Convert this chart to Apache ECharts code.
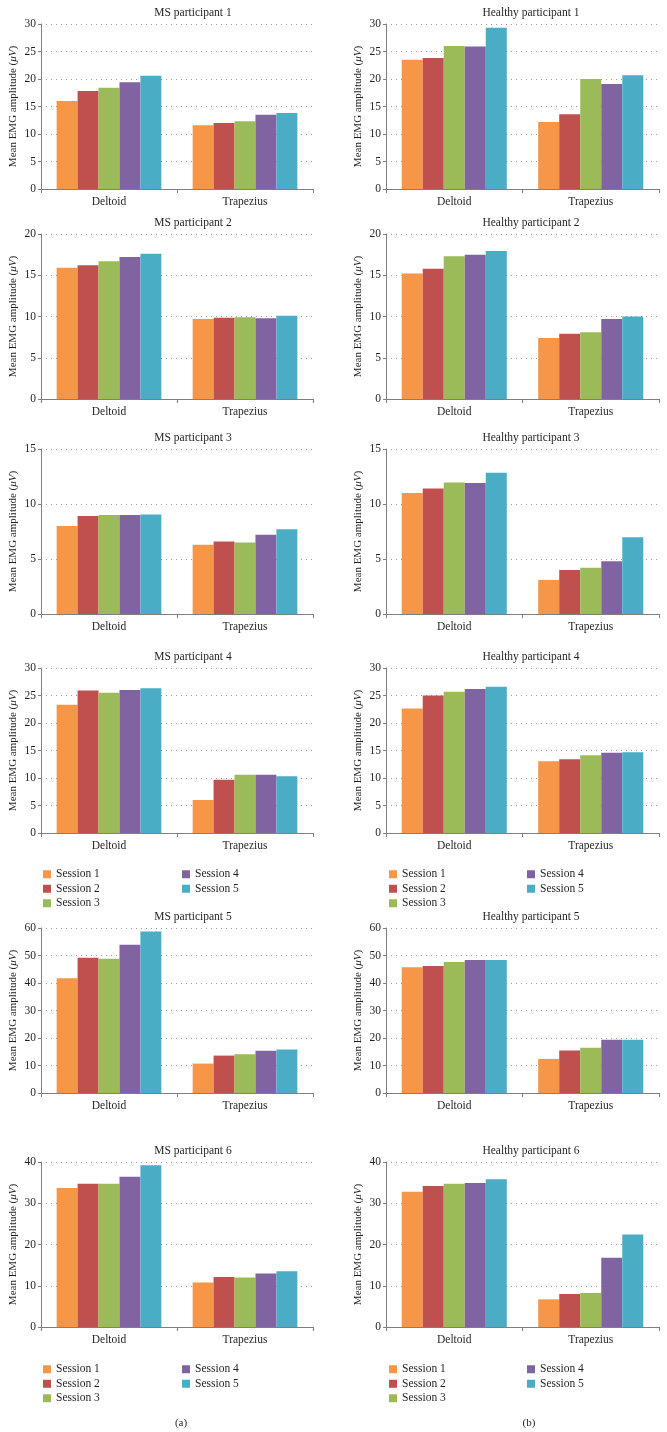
<!DOCTYPE html>
<html>
<head>
<meta charset="utf-8">
<script src="https://cdn.jsdelivr.net/npm/echarts@6/dist/echarts.min.js"></script>
<style>
  html, body { margin: 0; padding: 0; background: #fff; }
  #chart { width: 667px; height: 1432px; }
</style>
</head>
<body>
<div id="chart"></div>
<script>
// categories and sessions
const categories = ['Deltoid', 'Trapezius'];
const sessions = ['Session 1', 'Session 2', 'Session 3', 'Session 4', 'Session 5'];

// MS participants (a), one value per session
const ms1Deltoid = [16.0, 17.8, 18.4, 19.4, 20.6];
const ms1Trapezius = [11.6, 12.0, 12.3, 13.5, 13.8];
const ms2Deltoid = [15.9, 16.2, 16.7, 17.2, 17.6];
const ms2Trapezius = [9.7, 9.85, 9.9, 9.8, 10.1];
const ms3Deltoid = [8.0, 8.9, 9.0, 9.0, 9.05];
const ms3Trapezius = [6.3, 6.6, 6.5, 7.2, 7.7];
const ms4Deltoid = [23.3, 25.9, 25.5, 26.0, 26.3];
const ms4Trapezius = [6.0, 9.7, 10.6, 10.6, 10.3];
const ms5Deltoid = [41.7, 49.2, 48.8, 53.9, 58.7];
const ms5Trapezius = [10.7, 13.6, 14.1, 15.4, 15.8];
const ms6Deltoid = [33.7, 34.7, 34.7, 36.4, 39.2];
const ms6Trapezius = [10.8, 12.1, 12.0, 13.0, 13.5];

// Healthy participants (b)
const h1Deltoid = [23.5, 23.8, 26.0, 25.9, 29.3];
const h1Trapezius = [12.2, 13.6, 20.0, 19.1, 20.7];
const h2Deltoid = [15.2, 15.8, 17.3, 17.5, 17.95];
const h2Trapezius = [7.4, 7.9, 8.1, 9.7, 10.0];
const h3Deltoid = [11.0, 11.4, 11.95, 11.9, 12.85];
const h3Trapezius = [3.1, 4.0, 4.2, 4.8, 6.97];
const h4Deltoid = [22.65, 25.0, 25.7, 26.2, 26.6];
const h4Trapezius = [13.05, 13.4, 14.15, 14.6, 14.7];
const h5Deltoid = [45.7, 46.2, 47.6, 48.4, 48.4];
const h5Trapezius = [12.4, 15.5, 16.5, 19.4, 19.4];
const h6Deltoid = [32.8, 34.2, 34.7, 34.9, 35.8];
const h6Trapezius = [6.7, 8.0, 8.25, 16.8, 22.4];

// y axis tick setup per row
const yMax = [30, 20, 15, 30, 60, 40];
const yInterval = [5, 5, 5, 5, 10, 10];

const msPanels = [
  ['MS participant 1', ms1Deltoid, ms1Trapezius],
  ['MS participant 2', ms2Deltoid, ms2Trapezius],
  ['MS participant 3', ms3Deltoid, ms3Trapezius],
  ['MS participant 4', ms4Deltoid, ms4Trapezius],
  ['MS participant 5', ms5Deltoid, ms5Trapezius],
  ['MS participant 6', ms6Deltoid, ms6Trapezius],
];
const healthyPanels = [
  ['Healthy participant 1', h1Deltoid, h1Trapezius],
  ['Healthy participant 2', h2Deltoid, h2Trapezius],
  ['Healthy participant 3', h3Deltoid, h3Trapezius],
  ['Healthy participant 4', h4Deltoid, h4Trapezius],
  ['Healthy participant 5', h5Deltoid, h5Trapezius],
  ['Healthy participant 6', h6Deltoid, h6Trapezius],
];

const sessionColors = ['#F79646', '#C0504D', '#9BBB59', '#8064A2', '#4BACC6'];
const FONT = "'Liberation Serif', 'DejaVu Serif', serif";
const TEXT = '#231f20';

// layout
const rowTops = [24, 234, 449, 668, 928, 1162];
const rowHeight = 165;
const colLeft = [41, 386];
const colWidth = [272, 273];
const titleCenter = [188, 526];

const chart = echarts.init(document.getElementById('chart'));

const titles = [];
const grids = [];
const xAxes = [];
const yAxes = [];
const series = [];

[msPanels, healthyPanels].forEach((panels, col) => {
  panels.forEach(([title, deltoid, trapezius], row) => {
    const idx = grids.length;
    titles.push({
      text: title,
      left: titleCenter[col],
      top: rowTops[row] - 22,
      textAlign: 'center',
      textStyle: { fontFamily: FONT, fontSize: 11.5, fontWeight: 'normal', color: TEXT },
    });
    grids.push({
      left: colLeft[col],
      top: rowTops[row],
      width: colWidth[col],
      height: rowHeight,
    });
    xAxes.push({
      type: 'category',
      gridIndex: idx,
      data: categories,
      axisLine: { lineStyle: { color: '#7f7f7f', width: 1 } },
      axisTick: { show: true, length: 4, lineStyle: { color: '#7f7f7f' } },
      axisLabel: { margin: 7, fontFamily: FONT, fontSize: 11.5, color: TEXT },
    });
    yAxes.push({
      type: 'value',
      gridIndex: idx,
      min: 0,
      max: yMax[row],
      interval: yInterval[row],
      name: '{n|Mean EMG amplitude (}{i|μV}{n|)}',
      nameLocation: 'middle',
      nameGap: 22,
      nameTextStyle: {
        rich: {
          n: { fontFamily: FONT, fontSize: 11, color: TEXT },
          i: { fontFamily: FONT, fontSize: 11, color: TEXT, fontStyle: 'italic' },
        },
      },
      axisLine: { show: true, lineStyle: { color: '#7f7f7f', width: 1 } },
      axisTick: { show: true, length: 3, lineStyle: { color: '#7f7f7f' } },
      axisLabel: { margin: 5, fontFamily: FONT, fontSize: 11.5, color: TEXT },
      splitLine: { show: true, lineStyle: { color: '#9a9a9a', type: [1, 4], width: 1 } },
    });
    sessions.forEach((name, i) => {
      series.push({
        type: 'bar',
        name,
        xAxisIndex: idx,
        yAxisIndex: idx,
        data: [deltoid[i], trapezius[i]],
        barGap: '0%',
        barCategoryGap: '23%',
        itemStyle: { color: sessionColors[i] },
        emphasis: { disabled: true },
      });
    });
  });
});

// legends: under row 4 and row 6, in both columns, split in two columns each
const legendTops = [867, 1362];
const legendOffsets = [[43, 182], [389, 527]];
const legends = [];
legendTops.forEach((top) => {
  legendOffsets.forEach(([a, b]) => {
    [[sessions.slice(0, 3), a], [sessions.slice(3), b]].forEach(([data, left]) => {
      legends.push({
        data,
        left,
        top,
        orient: 'vertical',
        itemWidth: 8,
        itemHeight: 8,
        itemGap: 0,
        icon: 'rect',
        padding: 0,
        textStyle: { fontFamily: FONT, fontSize: 11.5, color: TEXT, lineHeight: 14.5 },
      });
    });
  });
});

titles.push(
  { text: '(a)', left: 176, top: 1413, textAlign: 'center',
    textStyle: { fontFamily: FONT, fontSize: 11, fontWeight: 'normal', color: TEXT } },
  { text: '(b)', left: 524, top: 1413, textAlign: 'center',
    textStyle: { fontFamily: FONT, fontSize: 11, fontWeight: 'normal', color: TEXT } }
);

chart.setOption({
  backgroundColor: '#fff',
  animation: false,
  title: titles,
  legend: legends,
  grid: grids,
  xAxis: xAxes,
  yAxis: yAxes,
  series,
});
</script>
</body>
</html>
